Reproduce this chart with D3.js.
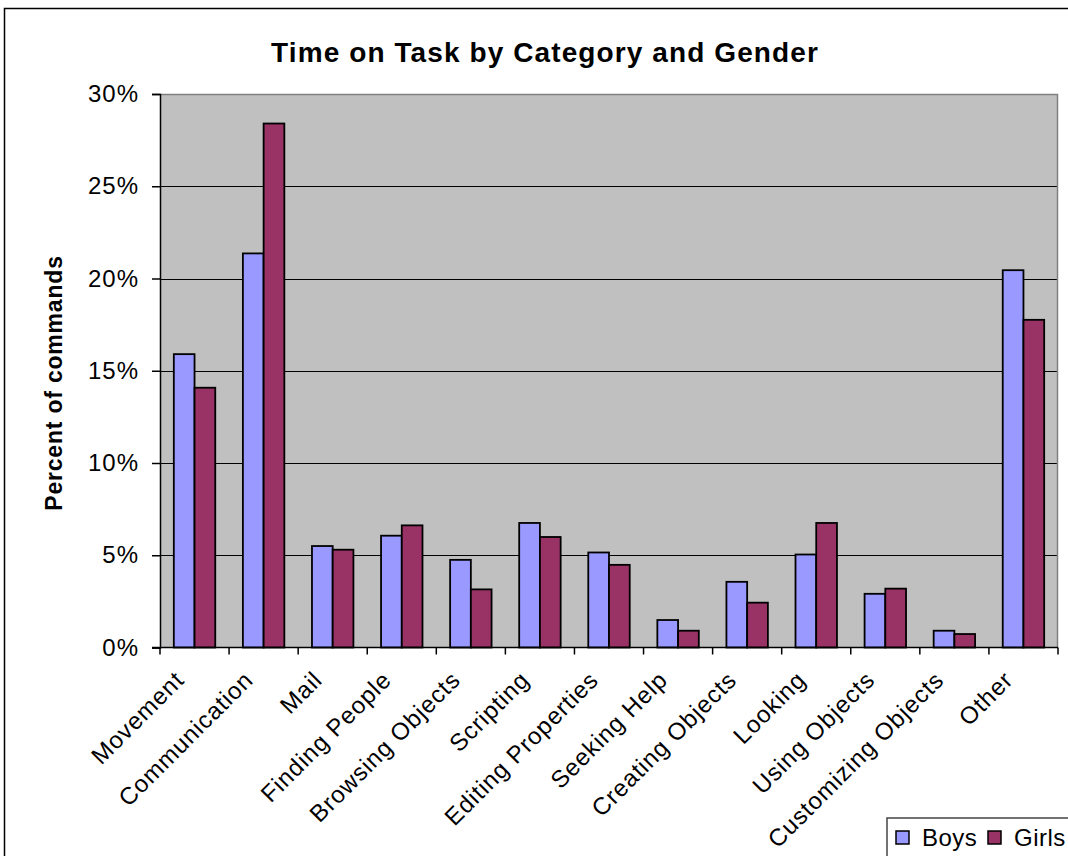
<!DOCTYPE html>
<html><head><meta charset="utf-8">
<script src="https://cdn.jsdelivr.net/npm/d3@7/dist/d3.min.js"></script>
<style>body{margin:0;background:#fff}svg{display:block}text{font-family:"Liberation Sans",Arial,sans-serif}</style>
</head><body>
<svg id="c" width="1068" height="856"></svg>
<script>
const categories = ["Movement","Communication","Mail","Finding People","Browsing Objects","Scripting","Editing Properties","Seeking Help","Creating Objects","Looking","Using Objects","Customizing Objects","Other"];
const boys  = [15.9, 21.36, 5.5, 6.06, 4.75, 6.75, 5.15, 1.49, 3.56, 5.04, 2.91, 0.91, 20.45];
const girls = [14.08, 28.4, 5.3, 6.62, 3.15, 5.99, 4.48, 0.91, 2.43, 6.75, 3.19, 0.73, 17.76];
const seriesNames = ["Boys","Girls"];
const seriesColors = ["#9999FF","#993366"];
const yTicks = [0,5,10,15,20,25,30];
const yTickLabels = ["0%","5%","10%","15%","20%","25%","30%"];

const svg = d3.select("#c");
const L = 160, R = 1058, T = 94, B = 647.5;

// outer chart border
svg.append("path").attr("d","M4.5,856 V8.5 H1068").attr("fill","none").attr("stroke","#000").attr("stroke-width",1.5);

const x = d3.scaleBand().domain(categories).range([L,R]).padding(0);
const y = d3.scaleLinear().domain([0,30]).range([B,T]);

svg.append("rect").attr("x",L).attr("y",T).attr("width",R-L).attr("height",B-T).attr("fill","#C0C0C0");

// gridlines
svg.append("g").selectAll("line").data(yTicks.filter(v=>v>0&&v<30)).join("line")
  .attr("x1",L).attr("x2",R).attr("y1",d=>Math.round(y(d))+0.5).attr("y2",d=>Math.round(y(d))+0.5)
  .attr("stroke","#000").attr("stroke-width",1);
// plot border top/right
svg.append("path").attr("d",`M${L},${T+0.5} H${R-0.5} V${B}`).attr("fill","none").attr("stroke","#808080").attr("stroke-width",1.5);

// bars
const bw = x.bandwidth()*0.3;
const data = categories.map((c,i)=>({c, v:[boys[i],girls[i]]}));
const g = svg.append("g");
data.forEach(d=>{
  const cx = x(d.c)+x.bandwidth()/2;
  d.v.forEach((v,j)=>{
    g.append("rect").attr("x",cx-bw+j*bw).attr("y",y(v)).attr("width",bw).attr("height",B-y(v))
      .attr("fill",seriesColors[j]).attr("stroke","#000").attr("stroke-width",1.8);
  });
});

// y axis
const yAxis = d3.axisLeft(y).tickValues(yTicks).tickFormat((d,i)=>yTickLabels[i]).tickSize(8).tickPadding(13);
const ya = svg.append("g").attr("transform",`translate(${L},0)`).call(yAxis);
ya.select(".domain").attr("stroke","#000").attr("stroke-width",1.5);
ya.selectAll(".tick line").attr("stroke","#000").attr("stroke-width",1.5);
ya.selectAll(".tick text").attr("font-size",24).attr("letter-spacing",1).attr("fill","#000").attr("font-family","Liberation Sans, Arial, sans-serif");

// x axis
const xa = svg.append("g").attr("transform",`translate(0,${B})`);
xa.append("line").attr("x1",L-8).attr("x2",R).attr("y1",0).attr("y2",0).attr("stroke","#000").attr("stroke-width",1.5);
xa.selectAll("line.t").data(d3.range(categories.length+1)).join("line").attr("class","t")
  .attr("x1",i=>L+i*x.bandwidth()).attr("x2",i=>L+i*x.bandwidth()).attr("y1",0).attr("y2",7)
  .attr("stroke","#000").attr("stroke-width",1.5);
xa.selectAll("text").data(categories).join("text")
  .attr("transform",d=>`translate(${x(d)+x.bandwidth()/2-9},${34}) rotate(-45)`)
  .attr("text-anchor","end").attr("font-size",24).attr("letter-spacing",0.9).attr("fill","#000").text(d=>d);

// title
svg.append("text").attr("x",545).attr("y",62).attr("text-anchor","middle").attr("font-size",28).attr("letter-spacing",1.1).attr("font-weight","bold").text("Time on Task by Category and Gender");
// y label
svg.append("text").attr("transform","translate(62,383) rotate(-90)").attr("text-anchor","middle").attr("font-size",23).attr("letter-spacing",0.8).attr("font-weight","bold").text("Percent of commands");

// legend
const lg = svg.append("g");
lg.append("rect").attr("x",887).attr("y",818).attr("width",200).attr("height",60).attr("fill","#fff").attr("stroke","#444").attr("stroke-width",1.5);
seriesNames.forEach((n,i)=>{
  const ox = [896,988][i];
  lg.append("rect").attr("x",ox).attr("y",831).attr("width",13).attr("height",13).attr("fill",seriesColors[i]).attr("stroke","#000").attr("stroke-width",1.5);
  lg.append("text").attr("x",ox+26).attr("y",846).attr("font-size",24).attr("letter-spacing",0.5).text(n);
});
</script>
</body></html>
